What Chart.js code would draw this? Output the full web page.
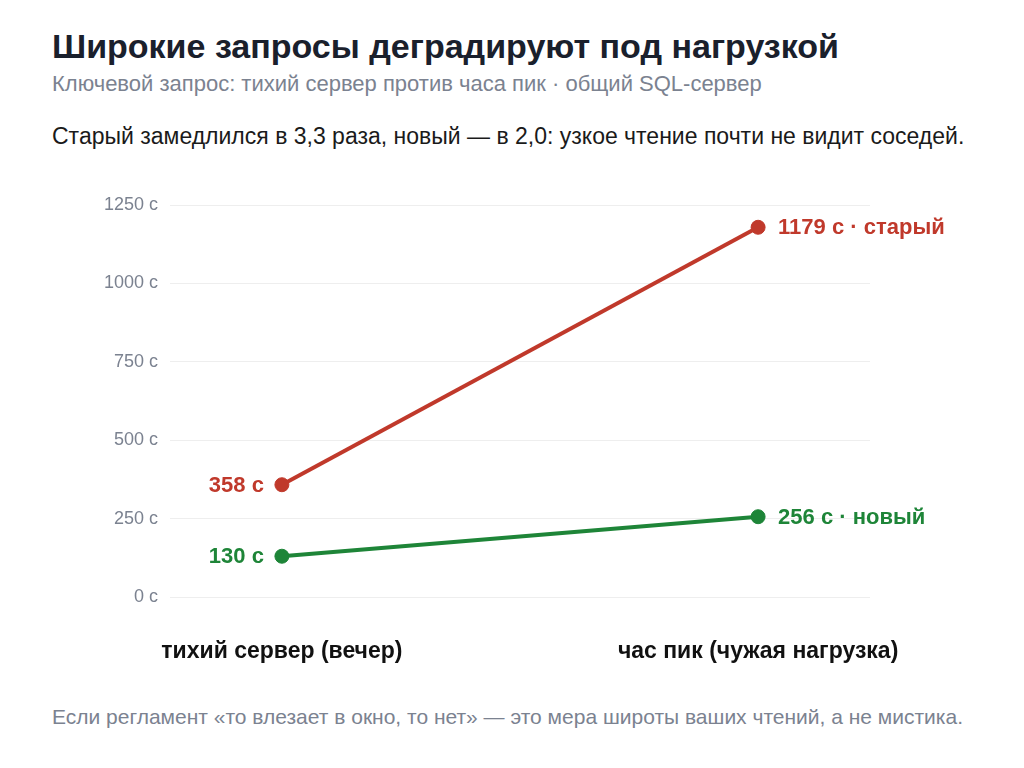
<!DOCTYPE html>
<html lang="ru">
<head>
<meta charset="utf-8">
<title>Широкие запросы деградируют под нагрузкой</title>
<script src="https://cdn.jsdelivr.net/npm/chart.js@4"></script>
<style>
  body { margin: 0; background: #fff; font-family: "Liberation Sans", Arial, sans-serif; }
  #wrap { position: relative; width: 1024px; height: 768px; overflow: hidden; }
  h1 { position: absolute; left: 52px; top: 27px; margin: 0; font-size: 34px; font-weight: bold; color: #1a202c; white-space: nowrap; }
  .sub { position: absolute; left: 52px; top: 71px; margin: 0; font-size: 22px; color: #7b8290; white-space: nowrap; }
  .note { position: absolute; left: 52px; top: 123px; margin: 0; font-size: 23px; color: #1a1a1a; white-space: nowrap; }
  .foot { position: absolute; left: 52px; top: 705px; margin: 0; font-size: 21px; color: #7b8290; white-space: nowrap; }
  #box { position: absolute; left: 0; top: 170px; width: 1024px; height: 500px; }
</style>
</head>
<body>
<div id="wrap">
  <h1>Широкие запросы деградируют под нагрузкой</h1>
  <p class="sub">Ключевой запрос: тихий сервер против часа пик · общий SQL-сервер</p>
  <p class="note">Старый замедлился в 3,3 раза, новый — в 2,0: узкое чтение почти не видит соседей.</p>
  <div id="box"><canvas id="grafica"></canvas></div>
  <p class="foot">Если регламент «то влезает в окно, то нет» — это мера широты ваших чтений, а не мистика.</p>
</div>
<script>
// данные
const categorias = ['тихий сервер (вечер)', 'час пик (чужая нагрузка)'];
const viejo = [358, 1179];
const nuevo = [130, 256];
const nombres = ['старый', 'новый'];
const yTicks = [0, 250, 500, 750, 1000, 1250];

const ROJO = '#c0392b';
const VERDE = '#1e8538';

function puntos(valores) {
    return valores.map((v, i) => ({ x: i, y: v }));
}

// подписи у точек
const etiquetas = {
    id: 'etiquetas',
    afterDatasetsDraw(chart) {
        const ctx = chart.ctx;
        ctx.save();
        ctx.font = 'bold 22px "Liberation Sans", Arial, sans-serif';
        ctx.textBaseline = 'middle';
        chart.data.datasets.forEach((ds, d) => {
            const meta = chart.getDatasetMeta(d);
            ctx.fillStyle = ds.borderColor;
            meta.data.forEach((p, i) => {
                const v = ds.data[i].y;
                if (i === 0) {
                    ctx.textAlign = 'right';
                    ctx.fillText(v + ' с', p.x - 18, p.y + 1);
                } else {
                    ctx.textAlign = 'left';
                    ctx.fillText(v + ' с · ' + nombres[d], p.x + 20, p.y + 1);
                }
            });
        });
        ctx.restore();
    }
};

const ctx = document.getElementById('grafica').getContext('2d');
new Chart(ctx, {
    type: 'line',
    data: {
        datasets: [
            { label: nombres[0], data: puntos(viejo), borderColor: ROJO, backgroundColor: ROJO,
              borderWidth: 4, pointRadius: 7, pointBorderWidth: 1, pointHoverRadius: 7 },
            { label: nombres[1], data: puntos(nuevo), borderColor: VERDE, backgroundColor: VERDE,
              borderWidth: 4, pointRadius: 7, pointBorderWidth: 1, pointHoverRadius: 7 }
        ]
    },
    options: {
        responsive: true,
        maintainAspectRatio: false,
        animation: false,
        layout: { padding: { left: 90, right: 154, top: 35, bottom: 0 } },
        plugins: { legend: { display: false }, tooltip: { enabled: false } },
        scales: {
            x: {
                type: 'linear',
                min: -0.235,
                max: 1.235,
                grid: { display: false },
                border: { display: false },
                afterBuildTicks: s => { s.ticks = categorias.map((c, i) => ({ value: i })); },
                afterFit: s => { s.height = 73; },
                ticks: {
                    padding: 33,
                    color: '#111',
                    font: { family: '"Liberation Sans", Arial, sans-serif', size: 23, weight: 'bold' },
                    callback: v => categorias[v]
                }
            },
            y: {
                min: 0,
                max: 1250,
                grid: { color: '#eeeeee', drawTicks: false },
                border: { display: false },
                afterBuildTicks: s => { s.ticks = yTicks.map(v => ({ value: v })); },
                afterFit: s => { s.width = 80; },
                ticks: {
                    padding: 12,
                    color: '#7b8290',
                    font: { family: '"Liberation Sans", Arial, sans-serif', size: 18 },
                    callback: v => v + ' с'
                }
            }
        }
    },
    plugins: [etiquetas]
});
</script>
</body>
</html>
